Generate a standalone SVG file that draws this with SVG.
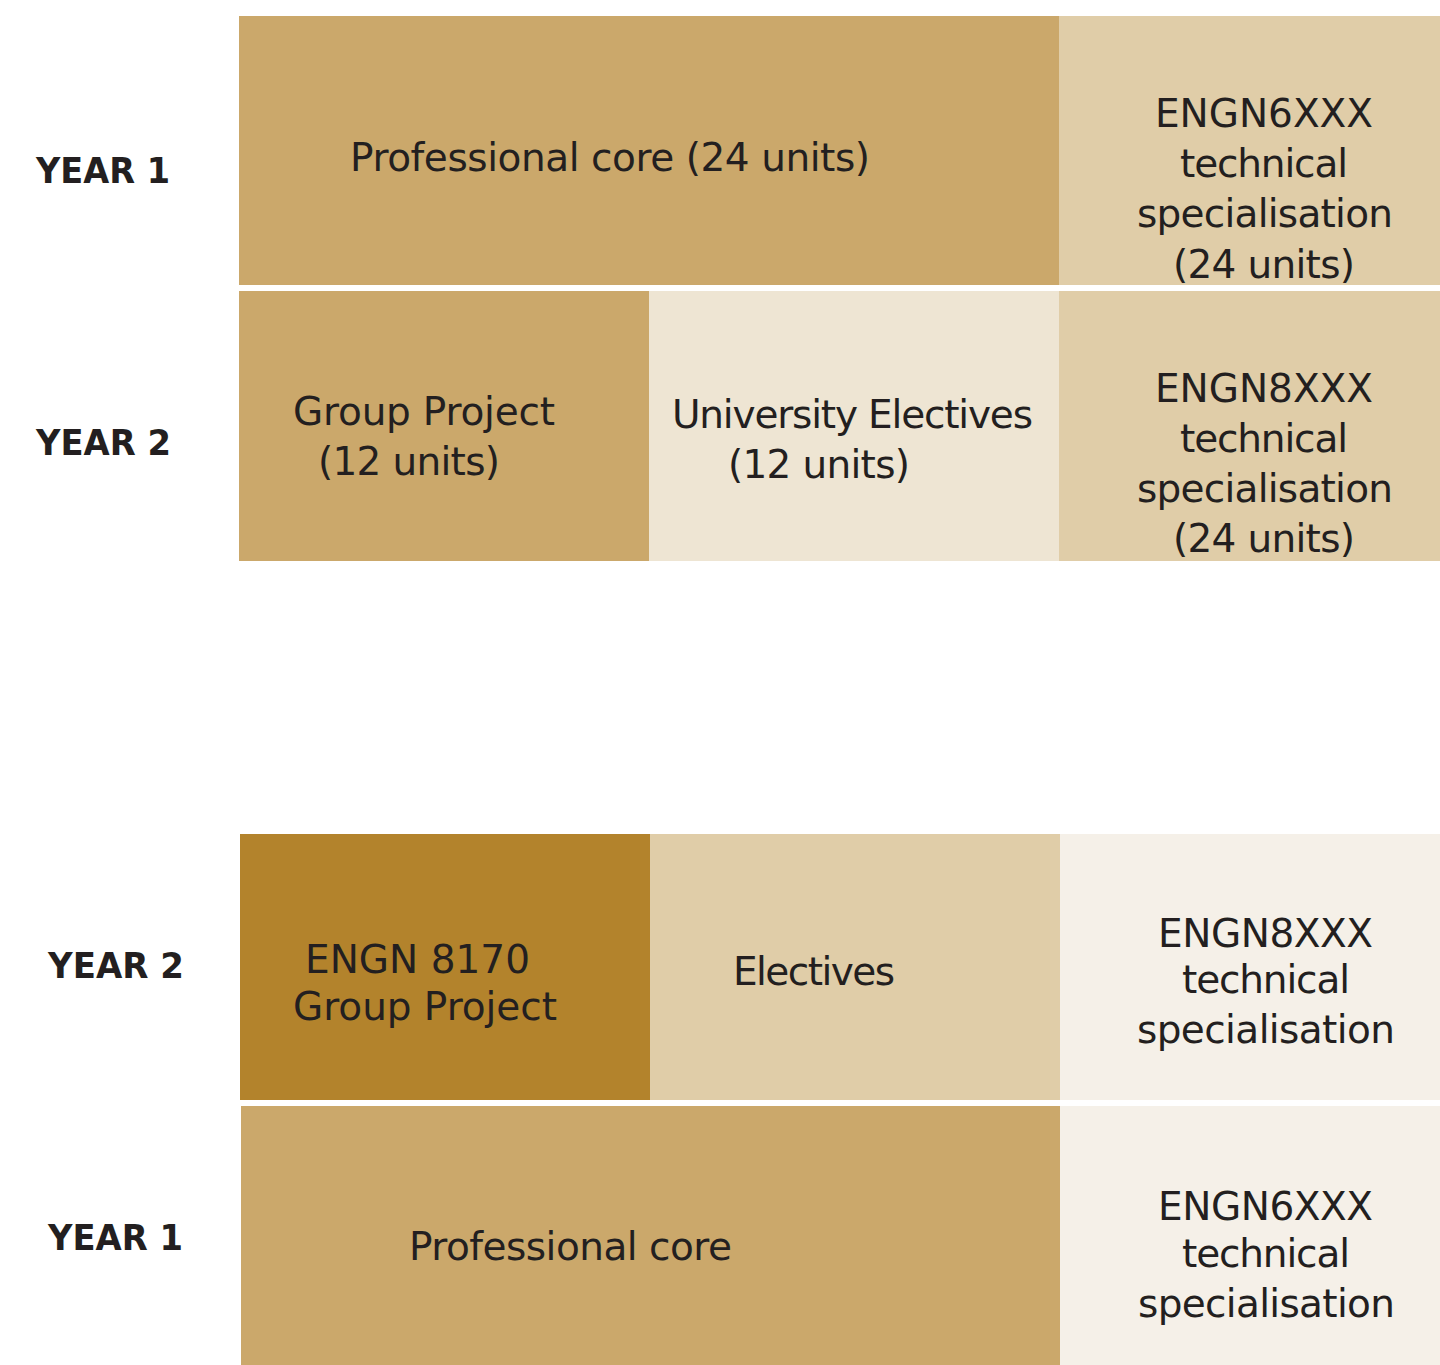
<svg xmlns="http://www.w3.org/2000/svg" width="1440" height="1365" viewBox="0 0 1440 1365">
<style>
.t{font-family:"DejaVu Sans","Liberation Sans",sans-serif;font-size:39px;fill:#231F20;}
.y{font-family:"DejaVu Sans","Liberation Sans",sans-serif;font-size:35px;font-weight:bold;fill:#231F20;}
.c1{fill:#CBA86B;}
.c2{fill:#E0CDA8;}
.c3{fill:#EEE5D3;}
.c4{fill:#B3832C;}
.c5{fill:#F5F0E8;}
</style>
<rect width="1440" height="1365" fill="#FFFFFF"/>
<g id="labels">
<text class="y" x="36" y="183" textLength="134" lengthAdjust="spacingAndGlyphs">YEAR 1</text>
<text class="y" x="36" y="455" textLength="135" lengthAdjust="spacingAndGlyphs">YEAR 2</text>
<text class="y" x="48" y="978" textLength="136" lengthAdjust="spacingAndGlyphs">YEAR 2</text>
<text class="y" x="48" y="1250" textLength="135" lengthAdjust="spacingAndGlyphs">YEAR 1</text>
</g>
<g id="top-prof-core">
<rect class="c1" x="239" y="16" width="820" height="269"/>
<text class="t" x="350" y="171" textLength="520">Professional core (24 units)</text>
</g>
<g id="top-engn6">
<rect class="c2" x="1059" y="16" width="381" height="269"/>
<text class="t" x="1155" y="127" textLength="218">ENGN6XXX</text>
<text class="t" x="1180" y="177" textLength="168">technical</text>
<text class="t" x="1137" y="227" textLength="256">specialisation</text>
<text class="t" x="1173" y="278" textLength="182">(24 units)</text>
</g>
<g id="top-group">
<rect class="c1" x="239" y="291" width="410" height="270"/>
<text class="t" x="293" y="425" textLength="262">Group Project</text>
<text class="t" x="318" y="475" textLength="182">(12 units)</text>
</g>
<g id="top-uni">
<rect class="c3" x="649" y="291" width="410" height="270"/>
<text class="t" x="672" y="428" textLength="361">University Electives</text>
<text class="t" x="728" y="478" textLength="182">(12 units)</text>
</g>
<g id="top-engn8">
<rect class="c2" x="1059" y="291" width="381" height="270"/>
<text class="t" x="1155" y="402" textLength="218">ENGN8XXX</text>
<text class="t" x="1180" y="452" textLength="168">technical</text>
<text class="t" x="1137" y="502" textLength="256">specialisation</text>
<text class="t" x="1173" y="552" textLength="182">(24 units)</text>
</g>
<g id="bot-group">
<rect class="c4" x="240" y="834" width="410" height="266"/>
<text class="t" x="305" y="973" textLength="225">ENGN 8170</text>
<text class="t" x="293" y="1020" textLength="264">Group Project</text>
</g>
<g id="bot-electives">
<rect class="c2" x="650" y="834" width="410" height="266"/>
<text class="t" x="733" y="985" textLength="162">Electives</text>
</g>
<g id="bot-engn8">
<rect class="c5" x="1060" y="834" width="380" height="266"/>
<text class="t" x="1158" y="947" textLength="215">ENGN8XXX</text>
<text class="t" x="1182" y="993" textLength="168">technical</text>
<text class="t" x="1137" y="1043" textLength="258">specialisation</text>
</g>
<g id="bot-prof-core">
<rect class="c1" x="241" y="1106" width="819" height="259"/>
<text class="t" x="409" y="1260" textLength="323">Professional core</text>
</g>
<g id="bot-engn6">
<rect class="c5" x="1060" y="1106" width="380" height="259"/>
<text class="t" x="1158" y="1220" textLength="215">ENGN6XXX</text>
<text class="t" x="1182" y="1267" textLength="168">technical</text>
<text class="t" x="1138" y="1317" textLength="257">specialisation</text>
</g>
<g id="connectors"></g>
</svg>
